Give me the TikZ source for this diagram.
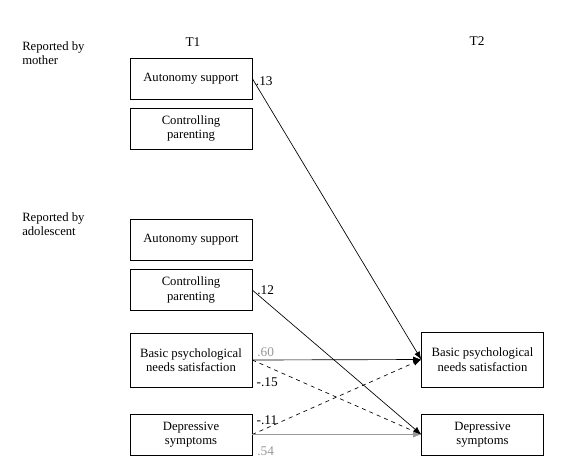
\documentclass[tikz,border=0pt]{standalone}
\usepackage{fontspec}
\setmainfont{Liberation Serif}
\usepackage{xcolor}
\usepackage{tikz}
\usetikzlibrary{arrows.meta}
\definecolor{labelgray}{gray}{0.6}
\tikzset{
box/.style = {rectangle, draw=black, minimum width=91.5pt, minimum height=#1,
              align=center, inner sep=0pt, font=\fontsize{9.5}{11}\selectfont},
box/.default = 30.75pt % height of the small boxes
}
\tikzset{
coef/.style = {inner sep=1pt, font=\fontsize{10}{11}\selectfont},
path/.style = {-{Latex[length=6pt, width=4.5pt]}, line width=0.5pt}
}

\begin{document}
\begin{tikzpicture}[x=0.75pt, y=-0.75pt]
\useasboundingbox (0,0) rectangle (573,468);

\node[font=\fontsize{10}{11}\selectfont] (tOne) at (193,42) {T1};
\node[font=\fontsize{10}{11}\selectfont] (tTwo) at (477,41) {T2};
\node[anchor=north west, align=left, inner sep=0pt, font=\fontsize{9.5}{11}\selectfont] (mLabel) at (22,41) {Reported by\\mother};
\node[anchor=north west, align=left, inner sep=0pt, font=\fontsize{9.5}{11}\selectfont] (aLabel) at (22,212) {Reported by\\adolescent};

\node[box] (mAutonomy) at (191,78.5) {Autonomy support};
\node[box] (mControl) at (191,128.5) {Controlling\\parenting};
\node[box] (aAutonomy) at (191,239.5) {Autonomy support};
\node[box] (aControl) at (191,290) {Controlling\\parenting};
\node[box=40.5pt] (aNeeds) at (191,360) {Basic psychological\\needs satisfaction};
\node[box] (aDepress) at (191,434.5) {Depressive\\symptoms};
\node[box=41pt] (tNeeds) at (482.5,359.5) {Basic psychological\\needs satisfaction};
\node[box] (tDepress) at (482.5,434.5) {Depressive\\symptoms};

\draw[path] (mAutonomy.east) -- node[coef, at start, anchor=west, xshift=1.5pt, yshift=-2pt]{.13} (tNeeds.west);
\draw[path] (aControl.east) -- node[coef, at start, anchor=west, xshift=2.5pt]{.12} (tDepress.west);
\draw[path] (aNeeds.east) -- node[coef, at start, anchor=west, xshift=2.5pt, yshift=6pt, text=labelgray]{.60} (tNeeds.west);
\draw[path, dashed] (aNeeds.east) -- node[coef, at start, anchor=west, xshift=2pt, yshift=-17pt]{-.15} (tDepress.west);
\draw[path, dashed] (aDepress.east) -- node[coef, at start, anchor=west, xshift=2pt, yshift=10.5pt]{-.11} (tNeeds.west);
\draw[path, draw=labelgray] (aDepress.east) -- node[coef, at start, anchor=west, xshift=2.5pt, yshift=-12.5pt, text=labelgray]{.54} (tDepress.west);
\end{tikzpicture}
\end{document}
